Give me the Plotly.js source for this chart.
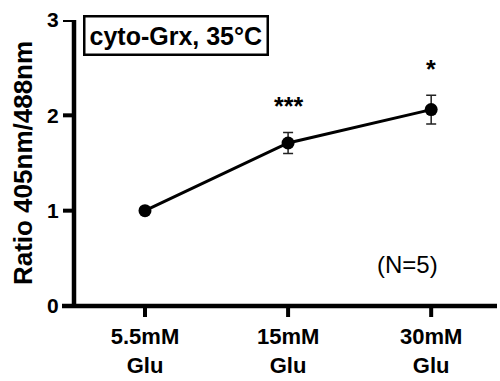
<!DOCTYPE html>
<html>
<head>
<meta charset="utf-8">
<script src="https://cdn.plot.ly/plotly-3.0.1.min.js"></script>
<style>html,body{margin:0;padding:0;background:#fff;}#chart{width:500px;height:381px;}</style>
</head>
<body>
<div id="chart"></div>
<script>
const categories = ["5.5mM<br>Glu", "15mM<br>Glu", "30mM<br>Glu"];
const ratios = [1.0, 1.71, 2.06];
const errors = [0, 0.11, 0.15];
const stars = ["", "***", "*"];
const starLevels = [null, 2.1, 2.49];
const yTicks = [0, 1, 2, 3];
const boxTitle = "cyto-Grx, 35°C";
const noteText = "(N=5)";

const FONT = "Liberation Sans, Arial, Helvetica, sans-serif";
const xIdx = categories.map((_, i) => i);

const W = 500, H = 381, ML = 62, MR = 3, MT = 20, MB = 75;
const PW = W - ML - MR, PH = H - MT - MB;
const yAxisPos = (74 - ML) / PW;
const TICK = 11;

const trace = {
  x: xIdx,
  y: ratios,
  type: "scatter",
  mode: "lines+markers",
  line: {color: "#000", width: 3},
  marker: {color: "#000", size: 13},
  error_y: {type: "data", array: errors, visible: true, color: "#222", thickness: 1.5, width: 5},
  cliponaxis: false,
  hoverinfo: "skip"
};

const annotations = [];
stars.forEach((s, i) => {
  if (s) annotations.push({
    x: xIdx[i], y: starLevels[i], xref: "x", yref: "y",
    text: "<b>" + s + "</b>", showarrow: false, font: {family: FONT, size: 25, color: "#000"},
    xanchor: "center", yanchor: "middle"
  });
});
annotations.push({
  x: 0.048, y: 1.017, xref: "paper", yref: "paper", xanchor: "left", yanchor: "top",
  text: "<b>" + boxTitle + "</b>", showarrow: false,
  font: {family: FONT, size: 25, color: "#000"},
  bordercolor: "#000", borderwidth: 2.5, borderpad: 4, bgcolor: "#fff"
});
annotations.push({
  x: (407 - ML) / PW, y: 0.44, xref: "paper", yref: "y", xanchor: "center", yanchor: "middle",
  text: noteText, showarrow: false, font: {family: FONT, size: 24, color: "#000"}
});

// axis lines and tick marks drawn as heavy shapes
const shapes = [
  {type: "line", xref: "paper", yref: "paper", x0: 0, x1: 1, y0: 0, y1: 0, line: {color: "#000", width: 4.5}},
  {type: "line", xref: "paper", yref: "paper", x0: yAxisPos, x1: yAxisPos, y0: 0, y1: 1, line: {color: "#000", width: 4.5}}
];
xIdx.forEach(v => shapes.push({type: "line", xref: "x", yref: "paper", x0: v, x1: v, y0: 0, y1: -TICK / PH, line: {color: "#000", width: 4}}));
yTicks.forEach(v => shapes.push({type: "line", xref: "paper", yref: "y", x0: yAxisPos, x1: yAxisPos - TICK / PW, y0: v, y1: v, line: {color: "#000", width: 4}}));

const layout = {
  width: W, height: H,
  margin: {l: ML, r: MR, t: MT, b: MB},
  paper_bgcolor: "#fff", plot_bgcolor: "#fff",
  showlegend: false,
  xaxis: {
    range: [-0.58, 2.46],
    tickmode: "array", tickvals: xIdx, ticktext: categories.map(c => "<b>" + c + "</b>"),
    ticks: "outside", ticklen: TICK, tickwidth: 4, tickcolor: "rgba(0,0,0,0)",
    showline: false,
    showgrid: false, zeroline: false,
    tickfont: {family: FONT, size: 22, color: "#000"}
  },
  yaxis: {
    range: [0, 3],
    anchor: "free", position: yAxisPos,
    tickmode: "array", tickvals: yTicks, ticktext: yTicks.map(v => "<b>" + v + "</b>"),
    ticks: "outside", ticklen: TICK, tickwidth: 4, tickcolor: "rgba(0,0,0,0)",
    showline: false,
    showgrid: false, zeroline: false,
    tickfont: {family: FONT, size: 21, color: "#000"},
    title: {text: "<b>Ratio 405nm/488nm</b>", font: {family: FONT, size: 26, color: "#000"}, standoff: 6}
  },
  shapes: shapes,
  annotations: annotations
};

Plotly.newPlot("chart", [trace], layout, {displayModeBar: false, staticPlot: true});
</script>
</body>
</html>
